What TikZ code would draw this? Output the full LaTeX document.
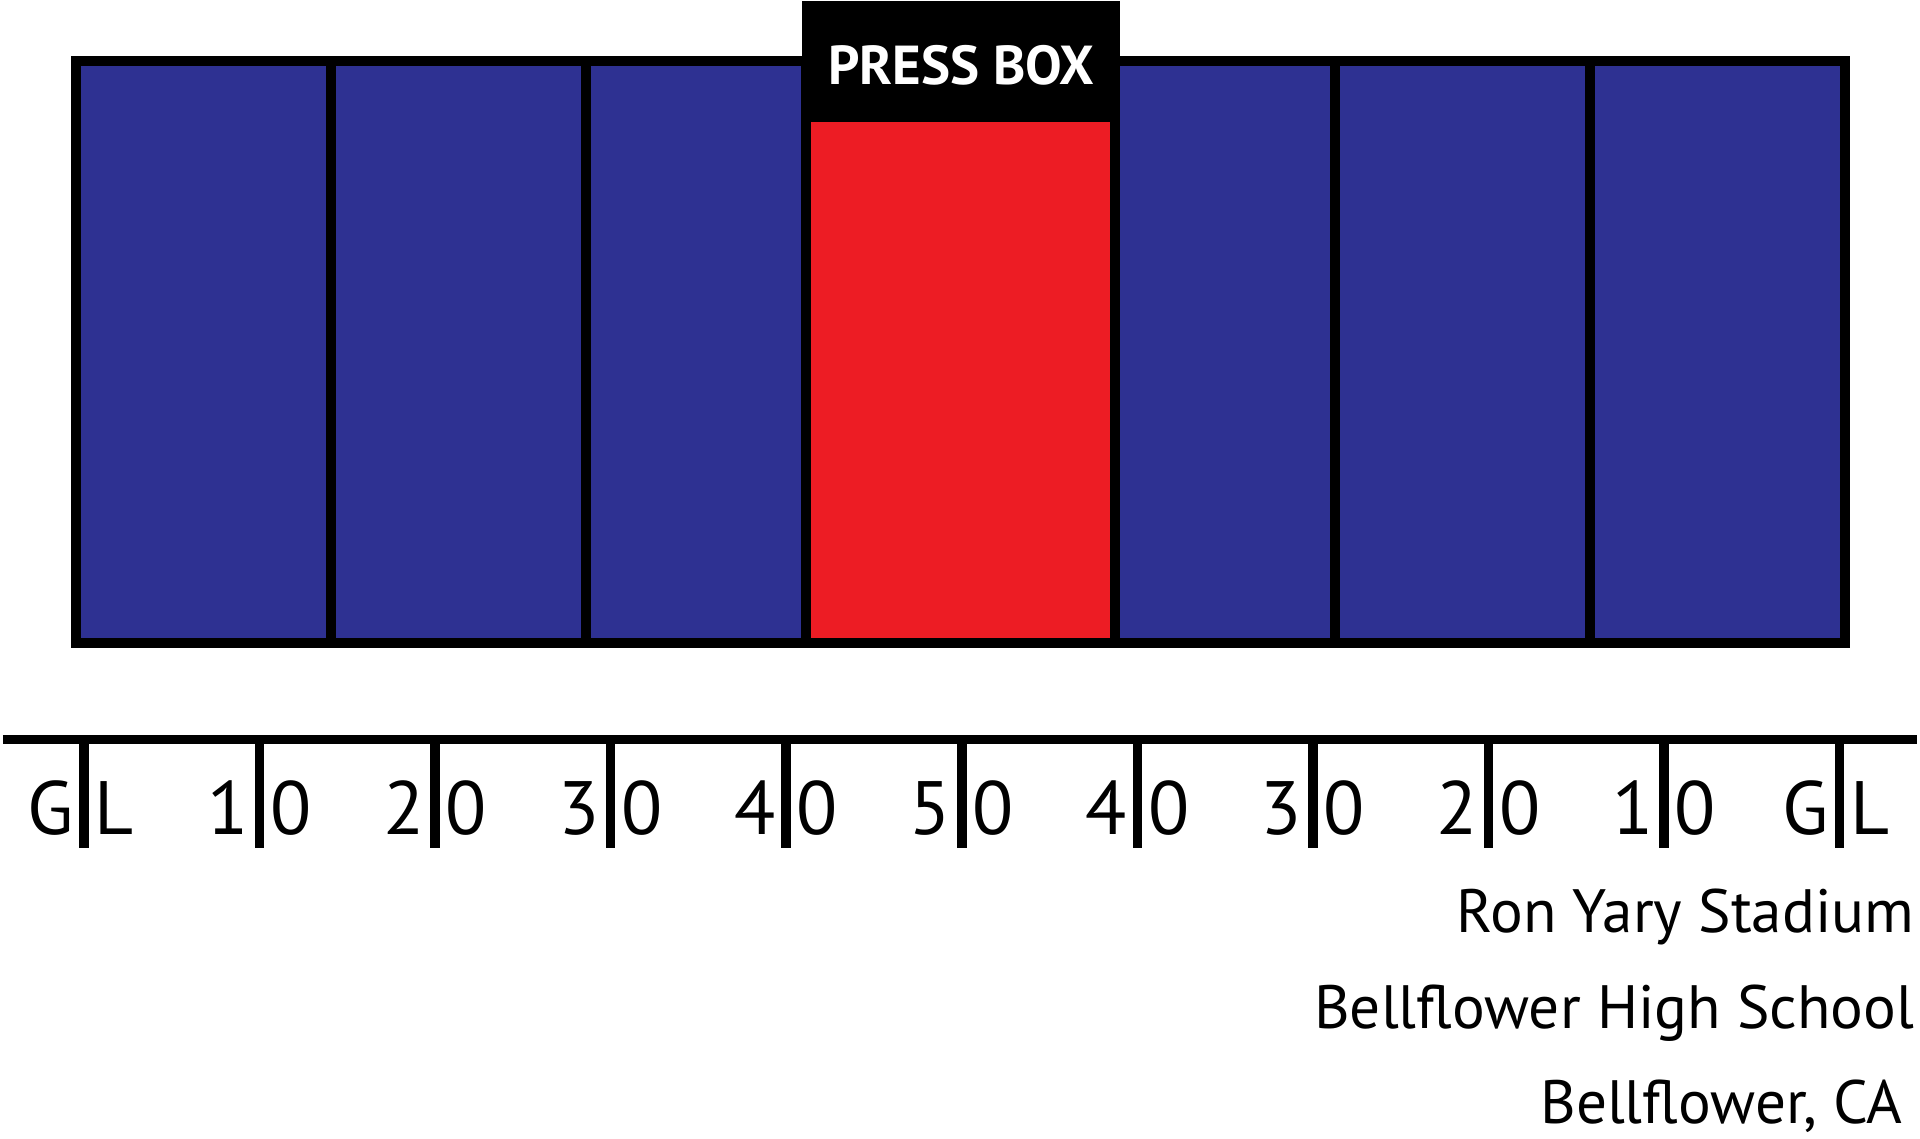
\documentclass[tikz,border=0pt]{standalone}
\usepackage{fontspec}
\setmainfont{PT Sans}
\usetikzlibrary{calc}
\definecolor{seat blue}{HTML}{2E3192}
\definecolor{box red}{HTML}{ED1C24}
\def\stands{(76,61) rectangle (1845,643)}
\def\pressbox{(802,1) rectangle (1120,122)}
\def\booth{(806,122) rectangle (1115,643)}
\tikzset{seats/.style={fill=seat blue},
    booth/.style={fill=box red},
    outline/.style={draw=black, line width=2.85pt},
    yardline/.style={draw=black, line width=2.7pt},
    yardlabel/.style={inner sep=0pt, font=\fontsize{21.5}{24}\selectfont},
    placelabel/.style={inner sep=0pt, anchor=base east, font=\fontsize{17.4}{20}\selectfont}}

\begin{document}
\begin{tikzpicture}[x=0.01cm, y=-0.01cm]
 \useasboundingbox (0,0) rectangle (1920,1139);

 \fill[seats] \stands;
 \fill[booth] \booth;
 \foreach \x in {331,586,806,1115,1335,1590}
  \draw[outline] (\x,61) -- (\x,643);
 \draw[outline] \stands;
 \fill[black] \pressbox;
 \node[anchor=base, text=white, inner sep=0pt, font=\fontsize{15.6}{17}\selectfont\bfseries] (press) at (961,84) {PRESS BOX};

 % field markings
 \draw[yardline] (3,739.5) -- (1917,739.5);
 \foreach \l/\r [count=\i from 0] in {G/L,1/0,2/0,3/0,4/0,5/0,4/0,3/0,2/0,1/0,G/L}{
  \pgfmathsetmacro{\tx}{84+175.55*\i}
  \draw[yardline] (\tx,739.5) -- (\tx,848);
  \node[yardlabel, anchor=base east] (yl\i) at (\tx-10,834) {\l};
  \node[yardlabel, anchor=base west] (yr\i) at (\tx+10,834) {\r};
 }

 \node[placelabel] (stadium) at (1915,932) {Ron Yary Stadium};
 \node[placelabel] (school) at (1915,1028) {Bellflower High School};
 \node[placelabel] (city) at (1903,1123) {Bellflower, CA};
\end{tikzpicture}
\end{document}
